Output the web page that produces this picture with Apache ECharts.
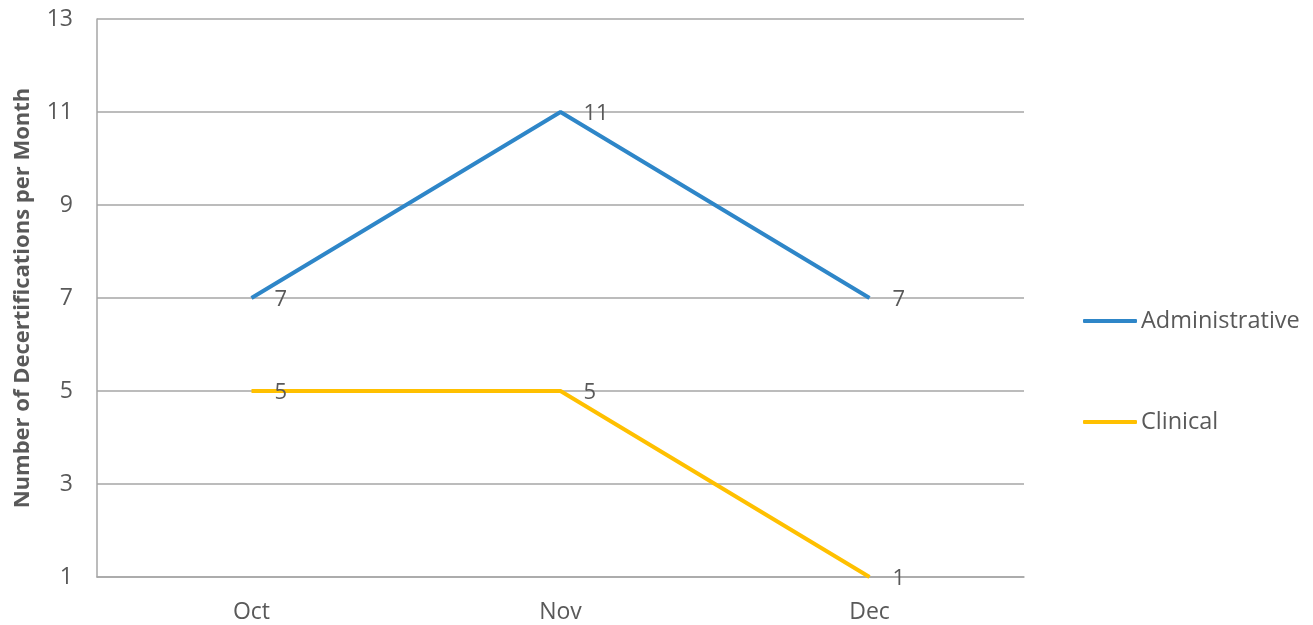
<!DOCTYPE html>
<html>
<head>
<meta charset="utf-8">
<style>
    html, body { margin: 0; padding: 0; background: #fff; }
    #chart { width: 1313px; height: 625px; }
</style>
<script src="https://cdn.jsdelivr.net/npm/echarts@6/dist/echarts.min.js"></script>
</head>
<body>
<div id="chart"></div>
<script>
// months on the x axis
var months = ['Oct', 'Nov', 'Dec'];
// decertifications per month
var administrative = [7, 11, 7];
var clinical = [5, 5, 1];
var seriesNames = ['Administrative', 'Clinical'];

var textColor = '#595959';
var gridColor = '#a6a6a6';
var font = '"Open Sans", "Noto Sans", sans-serif';

function makeLine(name, data, color) {
    return {
        name: name,
        type: 'line',
        data: data,
        symbol: 'circle',
        symbolSize: 0,
        showSymbol: true,
        lineStyle: { width: 4, color: color },
        itemStyle: { color: color },
        label: {
            show: true,
            position: 'right',
            distance: 23,
            offset: [0, 2],
            color: textColor,
            fontSize: 22,
            fontFamily: font
        }
    };
}

var myChart = echarts.init(document.getElementById('chart'));
myChart.setOption({
    animation: false,
    grid: {
        left: 97,
        right: 289,
        top: 19,
        bottom: 48,
        outerBoundsMode: 'none'
    },
    legend: {
        orient: 'vertical',
        left: 1083,
        top: 309,
        padding: 0,
        itemWidth: 54,
        itemHeight: 4,
        itemGap: 77,
        icon: 'roundRect',
        data: seriesNames,
        textStyle: {
            color: textColor,
            fontSize: 23.5,
            fontFamily: font,
            padding: [0, 0, 0, -1]
        }
    },
    xAxis: {
        type: 'category',
        data: months,
        boundaryGap: true,
        axisLine: { lineStyle: { color: gridColor, width: 1.5 } },
        axisTick: { show: false },
        axisLabel: {
            color: textColor,
            fontSize: 23,
            fontFamily: font,
            margin: 24
        }
    },
    yAxis: {
        type: 'value',
        min: 1,
        max: 13,
        interval: 2,
        name: 'Number of Decertifications per Month',
        nameLocation: 'middle',
        nameGap: 63,
        nameTextStyle: {
            color: textColor,
            fontSize: 22,
            fontWeight: 'bold',
            fontFamily: font
        },
        axisLine: { show: true, lineStyle: { color: gridColor, width: 1.5 } },
        axisTick: { show: false },
        axisLabel: {
            color: textColor,
            fontSize: 23,
            fontFamily: font,
            margin: 24
        },
        splitLine: { lineStyle: { color: gridColor, width: 1.5 } }
    },
    series: [
        makeLine(seriesNames[0], administrative, '#2e86c8'),
        makeLine(seriesNames[1], clinical, '#ffc000')
    ]
});
</script>
</body>
</html>
